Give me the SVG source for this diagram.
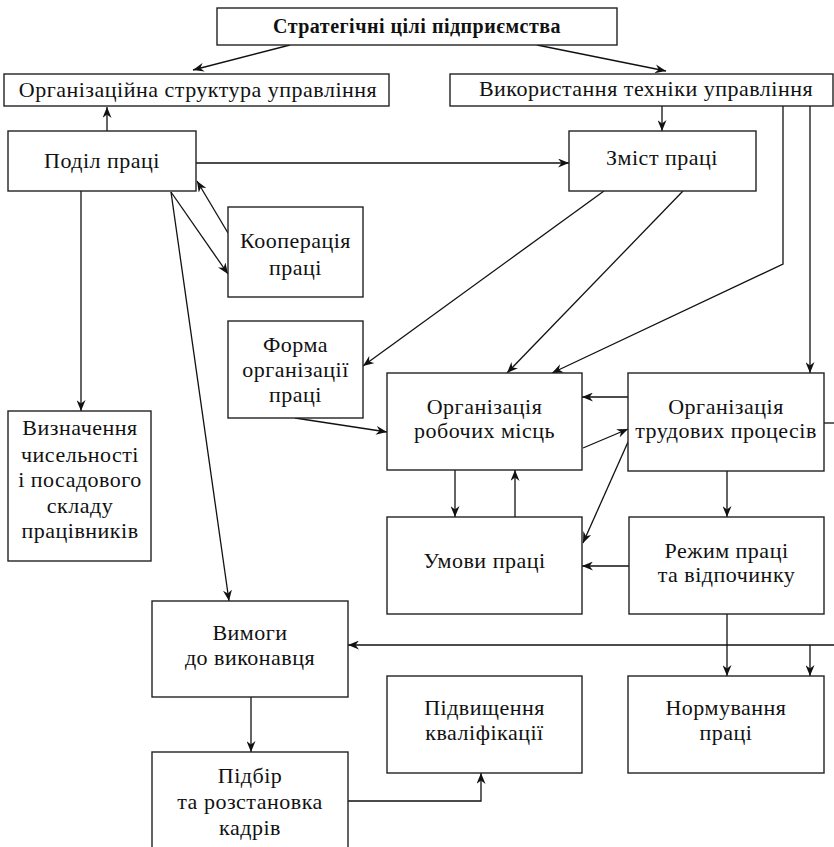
<svg xmlns="http://www.w3.org/2000/svg" width="834" height="847" viewBox="0 0 834 847">
<defs>
<marker id="ah" markerUnits="userSpaceOnUse" markerWidth="11" markerHeight="9" viewBox="0 0 11 9" refX="11" refY="4.5" orient="auto">
<path d="M0,0 L11,4.5 L0,9 L3.5,4.5 z" fill="#111"/>
</marker>
</defs>
<style>
rect{fill:#fff;stroke:#222;stroke-width:1.4}
text{font-family:"Liberation Serif","Times New Roman",serif;font-size:22px;letter-spacing:0.5px;fill:#111;text-anchor:middle}
.b{font-weight:bold;font-size:20px}
#conn line,#conn polyline{stroke:#111;stroke-width:1.3;fill:none}
.a{marker-end:url(#ah)}
</style>
<g id="conn">
<line class="a" x1="290" y1="45" x2="193" y2="70"/>
<line class="a" x1="537" y1="45" x2="666" y2="71"/>
<line class="a" x1="107" y1="131" x2="107" y2="107"/>
<line class="a" x1="196" y1="163" x2="569" y2="163"/>
<line class="a" x1="662" y1="106" x2="662" y2="131"/>
<polyline class="a" points="783,106 783,264 552,373"/>
<line class="a" x1="810" y1="106" x2="810" y2="373"/>
<line class="a" x1="604" y1="191" x2="363" y2="366"/>
<line class="a" x1="683" y1="191" x2="507" y2="373"/>
<line x1="824" y1="423" x2="834" y2="423"/>
<line class="a" x1="628" y1="397" x2="582" y2="397"/>
<line class="a" x1="583" y1="448" x2="628" y2="429"/>
<line class="a" x1="628" y1="442" x2="583" y2="543"/>
<line class="a" x1="455" y1="470" x2="455" y2="517"/>
<line class="a" x1="515" y1="517" x2="515" y2="470"/>
<line class="a" x1="727" y1="471" x2="727" y2="517"/>
<line class="a" x1="629" y1="566" x2="582" y2="566"/>
<line class="a" x1="727" y1="614" x2="727" y2="676"/>
<line class="a" x1="834" y1="645" x2="348" y2="645"/>
<line class="a" x1="810" y1="645" x2="810" y2="676"/>
<line class="a" x1="81" y1="191" x2="81" y2="411"/>
<line class="a" x1="171" y1="192" x2="229" y2="601"/>
<line class="a" x1="171" y1="192" x2="228" y2="274"/>
<line class="a" x1="228" y1="233" x2="197" y2="181"/>
<line class="a" x1="295" y1="418" x2="387" y2="432"/>
<line class="a" x1="251" y1="697" x2="251" y2="752"/>
<polyline class="a" points="348,801 481,801 481,773"/>
</g>
<g id="n_strat"><rect x="217" y="8" width="400" height="37"/><text class="b" x="417" y="33">Стратегічні цілі підприємства</text></g>
<g id="n_orgstr"><rect x="4" y="74" width="385" height="32"/><text x="198" y="97">Організаційна структура управління</text></g>
<g id="n_tech"><rect x="450" y="74" width="383" height="32"/><text x="646" y="96">Використання техніки управління</text></g>
<g id="n_podil"><rect x="8" y="131" width="188" height="60"/><text x="102" y="168">Поділ праці</text></g>
<g id="n_zmist"><rect x="569" y="131" width="187" height="60"/><text x="662" y="165">Зміст праці</text></g>
<g id="n_koop"><rect x="228" y="207" width="135" height="90"/><text x="295.5" y="248">Кооперація</text><text x="295.5" y="275">праці</text></g>
<g id="n_forma"><rect x="228" y="321" width="135" height="97"/><text x="295.5" y="352">Форма</text><text x="295.5" y="377">організації</text><text x="295.5" y="402">праці</text></g>
<g id="n_vyzn"><rect x="8" y="411" width="143" height="150"/><text x="80" y="435">Визначення</text><text x="80" y="462">чисельності</text><text x="80" y="487">і посадового</text><text x="80" y="513">складу</text><text x="80" y="538">працівників</text></g>
<g id="n_orgrob"><rect x="387" y="373" width="195" height="97"/><text x="484.5" y="414">Організація</text><text x="484.5" y="438">робочих місць</text></g>
<g id="n_orgtrud"><rect x="628" y="373" width="196" height="98"/><text x="726" y="414">Організація</text><text x="726" y="438">трудових процесів</text></g>
<g id="n_umovy"><rect x="387" y="517" width="195" height="97"/><text x="484.5" y="568">Умови праці</text></g>
<g id="n_rezhym"><rect x="629" y="517" width="195" height="97"/><text x="726.5" y="558">Режим праці</text><text x="726.5" y="582">та відпочинку</text></g>
<g id="n_vymogy"><rect x="152" y="601" width="196" height="96"/><text x="250" y="640">Вимоги</text><text x="250" y="665">до виконавця</text></g>
<g id="n_pidvysch"><rect x="387" y="676" width="195" height="97"/><text x="484.5" y="715">Підвищення</text><text x="484.5" y="740">кваліфікації</text></g>
<g id="n_norm"><rect x="628" y="676" width="196" height="97"/><text x="726" y="715">Нормування</text><text x="726" y="740">праці</text></g>
<g id="n_pidbir"><rect x="152" y="752" width="196" height="110"/><text x="250" y="783">Підбір</text><text x="250" y="809">та розстановка</text><text x="250" y="835">кадрів</text></g>
</svg>
